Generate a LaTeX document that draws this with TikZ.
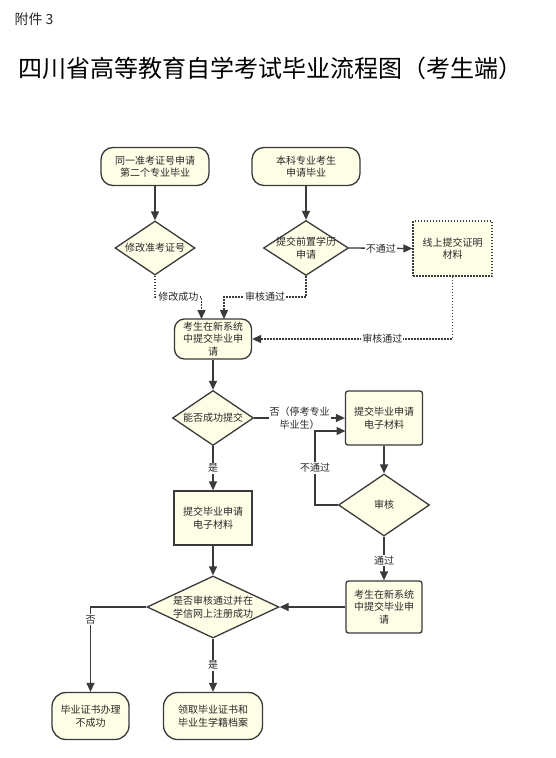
\documentclass[tikz,border=0pt]{standalone}
\usepackage{fontspec}
\setmainfont{Noto Sans CJK SC}
\usetikzlibrary{shapes.geometric,arrows.meta}
\definecolor{nodefill}{RGB}{254,254,230}
\definecolor{linec}{RGB}{58,58,58}
\definecolor{textc}{RGB}{40,40,40}
\begin{document}
\begin{tikzpicture}[x=1pt,y=-1pt,
  every node/.style={font=\fontsize{10}{12.5}\selectfont, text=textc},
  base/.style={draw=linec, fill=nodefill, line width=1.3pt, align=center, inner sep=0pt},
  term/.style={base, rounded corners=12pt},
  proc/.style={base},
  procr/.style={base, rounded corners=2.5pt},
  dec/.style={base, diamond},
  ext/.style={base, dash pattern=on 1.5pt off 1.5pt},
  conn/.style={draw=linec, line width=1.3pt, -{Triangle[length=9pt,width=8pt]}},
  dconn/.style={conn, dash pattern=on 1.5pt off 1.5pt},
  lbl/.style={fill=white, inner sep=1pt, align=center}
]
\useasboundingbox[fill=white] (0,0) rectangle (556,758);

\node[anchor=west, font=\fontsize{14}{16}\selectfont] (att) at (11,19) {附件 3};
\node[font=\fontsize{24}{30}\selectfont, text=black] (title) at (271,68) {四川省高等教育自学考试毕业流程图（考生端）};

% nodes
\node[term, minimum width=108, minimum height=38] (s1) at (155,166.5) {同一准考证号申请\\第二个专业毕业};
\node[term, minimum width=108, minimum height=38] (s2) at (306,166.5) {本科专业考生\\申请毕业};
\node[dec, minimum width=80, minimum height=54, label={[align=center]center:修改准考证号}] (d1) at (155,248) {};
\node[dec, minimum width=85, minimum height=55, label={[align=center]center:提交前置学历\\申请}] (d2) at (306,248) {};
\node[ext, minimum width=79, minimum height=55] (b5) at (452.5,248.5) {线上提交证明\\材料};
\node[term, rounded corners=10pt, minimum width=77, minimum height=40] (n6) at (213,339) {考生在新系统\\中提交毕业申\\请};
\node[dec, minimum width=81, minimum height=55, label={[align=center]center:能否成功提交}] (d3) at (213,418) {};
\node[proc, minimum width=78, minimum height=54] (lb) at (213,518) {提交毕业申请\\电子材料};
\node[procr, minimum width=77, minimum height=54] (rb) at (384,418) {提交毕业申请\\电子材料};
\node[dec, minimum width=91, minimum height=62, label={[align=center]center:审核}] (d4) at (384,505) {};
\node[procr, minimum width=76, minimum height=52] (rlb) at (384,607) {考生在新系统\\中提交毕业申\\请};
\node[dec, minimum width=132, minimum height=62, label={[align=center]center:是否审核通过并在\\学信网上注册成功}] (d5) at (213,607) {};
\node[term, rounded corners=14pt, minimum width=77, minimum height=47] (e1) at (90.5,716) {毕业证书办理\\不成功};
\node[term, rounded corners=14pt, minimum width=99, minimum height=47] (e2) at (213,716) {领取毕业证书和\\毕业生学籍档案};

% helper coordinates
\coordinate (c1a) at (155,297);
\coordinate (c1b) at (201.5,297);
\coordinate (c1c) at (201.5,319);
\coordinate (c2a) at (306,297);
\coordinate (c2b) at (224,297);
\coordinate (c2c) at (224,319);
\coordinate (c5a) at (452.5,339);
\coordinate (c4a) at (315,505);
\coordinate (c4b) at (315,431);
\coordinate (c4c) at (345.5,431);
\coordinate (c7a) at (90.5,607);

% connectors
\draw[conn] (s1) -- (d1);
\draw[conn] (s2) -- (d2);
\draw[dconn] (d1.south) -- (c1a) -- node[lbl]{修改成功} (c1b) -- (c1c);
\draw[dconn] (d2.south) -- (c2a) -- node[lbl]{审核通过} (c2b) -- (c2c);
\draw[conn] (d2.east) -- node[lbl]{不通过} (b5.west);
\draw[dconn] (b5.south) -- (c5a) -- node[lbl, pos=0.35]{审核通过} (n6.east);
\draw[conn] (n6) -- (d3);
\draw[conn] (d3) -- node[lbl]{是} (lb);
\draw[conn] (d3.east) -- node[lbl, pos=0.5]{否（停考专业\\毕业生）} (rb.west);
\draw[conn] (rb) -- (d4);
\draw[conn] (d4.west) -- (c4a) -- node[lbl]{不通过} (c4b) -- (c4c);
\draw[conn] (d4) -- node[lbl, pos=0.55]{通过} (rlb);
\draw[conn] (lb) -- (d5);
\draw[conn] (rlb) -- (d5);
\draw[conn] (d5.west) -- (c7a) -- node[lbl, pos=0.15]{否} (e1);
\draw[conn] (d5) -- node[lbl]{是} (e2);
\end{tikzpicture}
\end{document}
